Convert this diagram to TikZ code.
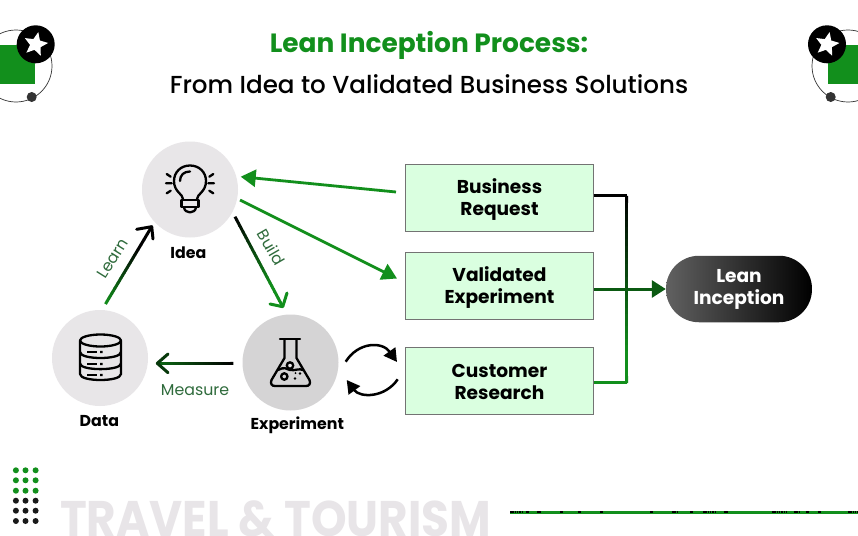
\documentclass[tikz,border=0pt]{standalone}
\usepackage{fontspec}
\setmainfont{Poppins}[BoldFont={Poppins Bold}]
\newfontfamily\pmed{Poppins Medium}
\usetikzlibrary{arrows.meta,calc,shapes.geometric}
\definecolor{gr}{HTML}{128F1C}
\definecolor{dgr}{HTML}{0B5A12}
\definecolor{lab}{HTML}{2F6B3C}
\definecolor{disc}{HTML}{E8E6E8}
\definecolor{boxf}{HTML}{DAFFE0}
\definecolor{wm}{HTML}{E8E5E8}
\newcommand{\dn}[2]{\raisebox{-#1pt}[\height][\depth]{#2}}
\tikzset{
  disc/.style={circle,fill=disc,minimum size=96pt,inner sep=0pt},
  stepbox/.style={draw=black!55,line width=.8pt,fill=boxf,minimum width=188pt,minimum height=67pt,align=center,font=\fontsize{18.6}{22}\selectfont\bfseries,inner sep=0pt},
  lbl/.style={font=\fontsize{15.8}{18}\selectfont\bfseries,text=black,inner sep=0pt},
  flow/.style={font=\fontsize{15.8}{18}\selectfont,text=lab,inner sep=0pt},
  garrow/.style={draw=gr,line width=2.8pt,-{Triangle[length=15pt,width=17pt,fill=gr]}},
  bk/.style={line width=3pt},
  ic/.style={draw=black,line width=2.3pt,line cap=round,line join=round},
  badge/.style={circle,fill=black,minimum size=38pt,inner sep=0pt},
  starw/.style={star,star points=5,star point ratio=2.2,fill=white,minimum size=25pt,inner sep=0pt},
  cyc/.style={draw=black,line width=2.5pt,-{Triangle[length=13pt,width=14pt,fill=black]}}
}
\newcommand{\gradseg}[5]{%
  \foreach \i in {0,...,29}{%
    \pgfmathsetmacro\ta{\i/30}\pgfmathsetmacro\tb{(\i+1.15)/30}%
    \pgfmathtruncatemacro\mx{min(100,100*(\i+.5)/30*#5)}%
    \draw[line width=3pt,draw={#4!\mx!#3}] ($(#1)!\ta!(#2)$) -- ($(#1)!\tb!(#2)$);}}
\begin{document}
\begin{tikzpicture}[x=1pt,y=-1pt]
\useasboundingbox (0,0) rectangle (858,535);
\fill[white] (0,0) rectangle (858,535);
% corner badges
\begin{scope}
\clip (0,0) rectangle (858,535);
\fill[gr] (0,45) rectangle (35,84);
\draw[black!80,line width=.7pt] (16,66) circle[radius=36pt];
\node[badge] (bl) at (35.7,44.3) {};
\node[starw,rotate=-12] (sl) at (35.7,44.3) {};
\node[circle,fill=black!80,minimum size=10pt,inner sep=0pt] (bal) at (31.7,97) {};
\fill[gr] (828.3,45) rectangle (858,84);
\draw[black!80,line width=.7pt] (848,66) circle[radius=36pt];
\node[badge] (br) at (827,44.3) {};
\node[starw,rotate=-12] (sr) at (827,44.3) {};
\node[circle,fill=black!80,minimum size=10pt,inner sep=0pt] (bar) at (830.7,97) {};
\end{scope}
% title
\node[font=\fontsize{26.4}{28}\selectfont\bfseries,text=gr,inner sep=0pt] (t1) at (429,45.5) {Lean Inception Process:};
\node[font=\fontsize{24.6}{28}\selectfont\pmed,text=black,inner sep=0pt] (t2) at (429,84) {From Idea to Validated Business Solutions};
% discs
\node[disc] (idea) at (190,189.5) {};
\node[disc] (data) at (100,358) {};
\node[disc,fill=disc!92!black] (exp) at (290.5,362.5) {};
\node[lbl] (l1) at (188.3,252.5) {Idea};
\node[lbl] (l2) at (99.3,421.5) {Data};
\node[lbl] (l3) at (297.3,425.5) {Experiment};
% triangle connectors
\coordinate (learnA) at (105.5,304);
\coordinate (learnB) at (151.7,226.7);
\coordinate (buildA) at (235,216.7);
\coordinate (buildB) at (282.7,306.7);
\coordinate (measA) at (233.3,363.3);
\coordinate (measB) at (157.3,363.3);
\gradseg{learnA}{learnB}{gr}{black}{1.4}
\gradseg{buildA}{buildB}{black}{gr}{1.3}
\gradseg{measA}{measB}{black}{gr}{.75}
\draw[bk,draw=black,line join=round,line cap=round] (136.7,229.3) -- (learnB) -- (153,239);
\draw[bk,draw=gr,line join=round,line cap=round] (270,304) -- (buildB) -- (287,293);
\draw[bk,draw=black!60!gr,line join=round,line cap=round] (168,354) -- (measB) -- (168,372.7);
\node[flow,rotate=58] (fl) at (112.7,258.3) {Learn};
\node[flow,rotate=-60] (fb) at (271.7,247.3) {Build};
\node[flow] (fm) at (195,390) {Measure};
% boxes
\node[stepbox] (biz) at (499.5,197.8) {\dn{2}{Business}\\\dn{2}{Request}};
\node[stepbox] (val) at (499.5,286) {\dn{2}{Validated}\\\dn{2}{Experiment}};
\node[stepbox] (cus) at (499.5,380.8) {\dn{1}{Customer}\\\dn{1}{Research}};
\node[minimum width=146pt,minimum height=66.5pt,inner sep=0pt,rounded corners=33pt,left color=black!62,right color=black,align=center,text=white,font=\fontsize{18.6}{22}\selectfont\bfseries] (lean) at (739,289) {Lean\\Inception};
% green arrows
\coordinate (bizout) at (396,192);
\coordinate (ideain) at (240.7,176.7);
\coordinate (ideaout) at (240,200);
\coordinate (valin) at (397,278.5);
\draw[garrow] (bizout) -- (ideain);
\draw[garrow] (ideaout) -- (valin);
% collector
\coordinate (c1) at (626.7,195.8);
\coordinate (c2) at (626.7,382.3);
\coordinate (b1) at (593.7,195.8);
\coordinate (b2) at (593.7,382.3);
\draw[line width=3pt,draw=black] (b1) -- (c1);
\draw[line width=3pt,draw=gr] (b2) -- (c2);
\gradseg{c1}{c2}{black}{gr}{1.2}
\draw[draw=dgr,line width=3pt,-{Triangle[length=14pt,width=17pt,fill=dgr]}] (val.east |- lean.west) -- (lean.west);
% cycle arrows
\coordinate (ca) at (345.7,361.7);
\coordinate (cb) at (397,362);
\coordinate (cc) at (397.7,379.3);
\coordinate (cd) at (346.7,380);
\draw[cyc] (ca) .. controls (358,342) and (382,341) .. (cb);
\draw[cyc] (cc) .. controls (385,398) and (360,398) .. (cd);
% bulb
\draw[ic] (183,199) .. controls (183,194) and (174,192) .. (174,181) .. controls (174,172) and (181,165.5) .. (190,165.5) .. controls (199,165.5) and (206,172) .. (206,181) .. controls (206,192) and (197,194) .. (197,199);
\draw[ic] (180,181) .. controls (180,175) and (184,171.5) .. (190,171.5);
\draw[ic] (181.5,200) -- (198.5,200) -- (198.5,207) -- (181.5,207) -- cycle;
\draw[ic] (184,207.5) .. controls (185,214) and (195,214) .. (196,207.5);
\draw[ic] (166.7,174) -- (170.7,176.7) (166,183.3) -- (171.7,183.3) (166.7,193.3) -- (170.7,190.7);
\draw[ic] (213.3,174) -- (209.3,176.7) (214,183.3) -- (208.3,183.3) (213.3,193.3) -- (209.3,190.7);
% database
\draw[ic] (100.5,340.5) ellipse[x radius=20.5pt,y radius=6pt];
\draw[ic] (80,340.5) -- (80,374) .. controls (80,382) and (121,382) .. (121,374) -- (121,340.5);
\draw[ic] (80,352) .. controls (80,360) and (121,360) .. (121,352);
\draw[ic] (80,363.5) .. controls (80,371) and (121,371) .. (121,363.5);
\draw[black,line width=1.2pt] (87,352) -- (97,352) (87,364) -- (97,364) (87,375) -- (97,375);
\fill (100,350.8) rectangle (102.5,353.2) (100,362.8) rectangle (102.5,365.2) (100,373.8) rectangle (102.5,376.2);
% flask
\draw[ic] (280,339.3) -- (300,339.3);
\draw[ic] (284.5,339.3) -- (284.5,358) -- (271.5,380) .. controls (270,384) and (272,386) .. (275,386) -- (306,386) .. controls (309,386) and (311,384) .. (309.5,380) -- (296.5,358) -- (296.5,339.3);
\draw[ic] (278,370) .. controls (284,366.5) and (287,369) .. (290,370) .. controls (295,371) and (299,368) .. (303,370);
\draw[ic,fill=disc] (290,365.5) circle[radius=3.2pt];
\draw[ic] (284.3,376.5) circle[radius=3.2pt];
\fill (295,378.5) circle[radius=1.3pt] (300,373.5) circle[radius=1.3pt] (295.5,373) circle[radius=1pt];
% dots
\foreach \yy/\cc in {470.3/gr,480.3/gr,490.7/gr,500.7/black!90,510.7/black!90,521/black!90}{
  \foreach \xx in {15.9,25.5,35.6}{\fill[\cc] (\xx,\yy) circle[radius=3pt];}}
% watermark
\begin{scope}
\clip (0,0) rectangle (858,535);
\node[anchor=base west,inner sep=0pt,xscale=.906,transform shape,text=wm,font=\fontsize{50}{50}\selectfont\bfseries] (wmk) at (60,536) {TRAVEL \& TOURISM};
\end{scope}
% footer rule
\coordinate (ra) at (510,512.5);
\coordinate (rb) at (858,512.5);
\draw[gr,line width=3.4pt] (ra) -- (rb);
\foreach \a/\b in {510/523,526/529,537/541,560/563,578/581,600/603,650/653,672/678,690/693,703/716,724/728,772/786,794/800,806/809,818/821,848/858}{
  \draw[black,line width=1.6pt,dash pattern=on 1.5pt off .8pt] (\a,511.7) -- (\b,511.7);}
\end{tikzpicture}
\end{document}
